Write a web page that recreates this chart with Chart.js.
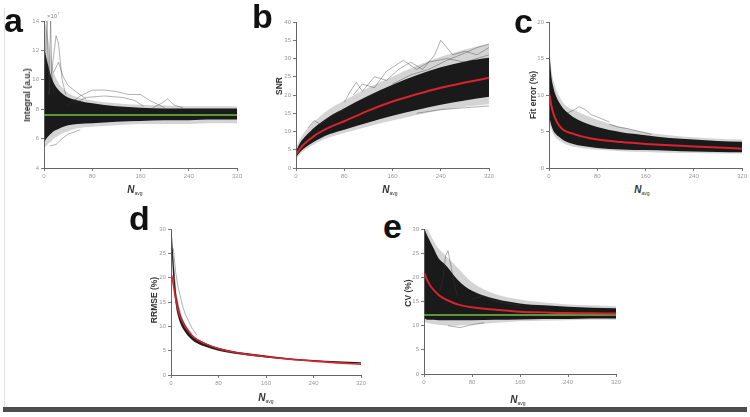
<!DOCTYPE html>
<html>
<head>
<meta charset="utf-8">
<script src="https://cdn.jsdelivr.net/npm/chart.js@4.4.0/dist/chart.umd.min.js"></script>
<style>
  html, body { margin: 0; padding: 0; background: #fff; width: 750px; height: 417px; overflow: hidden; position: relative; font-family: Arial, "Liberation Sans", sans-serif; }
  canvas { position: absolute; }
  .lt { position: absolute; font: bold 34px Arial, "Liberation Sans", sans-serif; color: #111; line-height: 1; }
  .yt { position: absolute; font: bold 8.5px Arial, "Liberation Sans", sans-serif; color: #333; white-space: nowrap; transform: translate(-50%, -50%) rotate(-90deg); }
  .xt { position: absolute; font: bold italic 10px Arial, "Liberation Sans", sans-serif; color: #333; white-space: nowrap; transform: translate(-50%, -50%); }
  .xt sub { font: normal 5px Arial, "Liberation Sans", sans-serif; vertical-align: -2px; }
  .exp { position: absolute; font: 6px Arial, "Liberation Sans", sans-serif; color: #888; }
</style>
</head>
<body>
<div style="position:absolute;left:4px;top:8px;width:1px;height:399px;background:#e2e2e2"></div>
<div style="position:absolute;left:3px;top:407px;width:744px;height:5px;background:#4d4d4d"></div>

<canvas id="chartA"></canvas>
<canvas id="chartB"></canvas>
<canvas id="chartC"></canvas>
<canvas id="chartD"></canvas>
<canvas id="chartE"></canvas>

<div class="lt" style="left:4px;top:3px">a</div>
<div class="lt" style="left:252px;top:-1px">b</div>
<div class="lt" style="left:514px;top:4px">c</div>
<div class="lt" style="left:129px;top:201px">d</div>
<div class="lt" style="left:383px;top:209px">e</div>

<div class="exp" style="left:47px;top:11px">×10<sup style="font-size:4px">7</sup></div>

<div class="yt" style="left:27px;top:95px">Integral (a.u.)</div>
<div class="yt" style="left:279px;top:86px">SNR</div>
<div class="yt" style="left:533px;top:95px">Fit error (%)</div>
<div class="yt" style="left:154px;top:300px">RRMSE (%)</div>
<div class="yt" style="left:408px;top:293px">CV (%)</div>

<div class="xt" style="left:135px;top:190px">N<sub>avg</sub></div>
<div class="xt" style="left:390px;top:190px">N<sub>avg</sub></div>
<div class="xt" style="left:642px;top:190px">N<sub>avg</sub></div>
<div class="xt" style="left:266px;top:398px">N<sub>avg</sub></div>
<div class="xt" style="left:518px;top:400px">N<sub>avg</sub></div>

<script>
// x positions used by the envelopes and mean curves
const xsA = [1, 4, 8, 12, 16, 24, 32, 40, 56, 80, 120, 160, 200, 240, 280, 320];
const xsB = [1, 8, 16, 24, 32, 40, 56, 80, 120, 160, 200, 240, 280, 320];
const xsC = [1, 4, 8, 12, 16, 24, 32, 40, 56, 80, 120, 160, 200, 240, 280, 320];
const xsD = [1, 4, 8, 12, 16, 24, 32, 40, 56, 80, 120, 160, 200, 240, 280, 320];
const xsE = [1, 4, 8, 12, 16, 24, 32, 40, 56, 80, 120, 160, 200, 240, 280, 320];

// a - Integral
const aOuterLo = [5.4, 5.5, 5.7, 5.8, 6.0, 6.2, 6.4, 6.5, 6.7, 6.8, 6.9, 7.0, 7.0, 7.0, 7.05, 7.05];
const aOuterHi = [14, 13.5, 12.5, 11.5, 10.6, 9.8, 9.4, 9.1, 8.8, 8.6, 8.4, 8.3, 8.25, 8.2, 8.2, 8.2];
const aCoreLo = [5.8, 6.0, 6.2, 6.35, 6.5, 6.65, 6.8, 6.9, 7.0, 7.05, 7.15, 7.2, 7.25, 7.25, 7.3, 7.3];
const aCoreHi = [12, 11.5, 10.8, 10.2, 9.8, 9.3, 9.0, 8.8, 8.6, 8.4, 8.2, 8.1, 8.05, 8.05, 8.05, 8.05];
const aTrue = 7.6;
const aOutliers = [
  [[40, 8.3], [60, 8.9], [80, 9.3], [100, 9.3], [120, 9.2], [140, 9.0], [160, 9.0], [175, 8.6], [190, 8.3], [200, 8.1]],
  [[50, 8.4], [70, 8.8], [100, 8.9], [130, 8.8], [150, 8.6], [165, 8.2]],
  [[8, 9], [14, 11], [20, 13], [24, 12.5], [30, 10], [36, 9]],
  [[1, 10], [3, 12], [5, 14], [7, 11], [10, 9]],
  [[8, 9], [11, 14], [13, 10.5], [16, 9]],
  [[10, 5.5], [20, 5.6], [30, 6.0], [40, 6.3], [60, 6.6]],
  [[180, 8.1], [195, 8.4], [205, 8.7], [215, 8.3], [230, 8.1]],
  [[16, 10.5], [24, 11.2], [32, 10.2], [40, 9.6], [56, 9.1], [70, 8.7]]
];

// b - SNR
const bMean = [3.9, 5.6, 6.9, 8.0, 9.0, 9.8, 11.2, 12.8, 15.7, 18.2, 20.2, 22.0, 23.4, 24.7];
const bOuterLo = [2.6, 4.0, 5.0, 5.9, 6.6, 7.3, 8.4, 9.6, 11.4, 13.0, 14.5, 15.8, 16.8, 17.5];
const bOuterHi = [6.0, 8.4, 10.2, 11.8, 13.0, 14.2, 16.2, 18.5, 22.0, 25.0, 28.0, 30.5, 32.5, 34.0];
const bCoreLo = [3.2, 4.6, 5.7, 6.6, 7.4, 8.1, 9.3, 10.5, 12.5, 14.3, 15.9, 17.3, 18.5, 19.5];
const bCoreHi = [5.0, 7.2, 8.8, 10.1, 11.3, 12.3, 14.2, 16.4, 19.8, 22.8, 25.4, 27.6, 29.2, 30.2];
const bOutliers = [
  [[80, 18], [90, 21], [100, 23.5], [110, 21], [130, 25], [150, 24], [170, 27], [190, 29], [210, 27], [230, 31], [240, 35], [250, 33], [260, 31], [280, 32], [300, 31], [320, 33]],
  [[95, 20], [110, 23], [130, 22], [150, 26.5], [178, 29.5], [200, 27], [220, 29], [250, 30], [280, 29], [320, 31]],
  [[20, 11], [30, 13], [40, 12], [60, 14.5], [80, 16]],
  [[200, 15], [240, 16], [280, 16.5], [320, 17]],
  [[160, 23], [190, 25.5], [220, 27], [250, 29.5], [280, 31.5], [300, 33], [320, 34]]
];

// c - Fit error (%)
const cMean = [10.0, 8.5, 7.3, 6.5, 5.9, 5.2, 4.9, 4.7, 4.3, 3.9, 3.55, 3.3, 3.1, 2.95, 2.8, 2.65];
const cOuterLo = [6.0, 5.2, 4.5, 4.1, 3.8, 3.4, 3.1, 2.9, 2.7, 2.5, 2.3, 2.2, 2.1, 2.05, 2.0, 2.0];
const cOuterHi = [16.2, 13.5, 11.8, 10.8, 10.0, 8.9, 8.3, 8.0, 7.4, 6.6, 5.6, 4.9, 4.5, 4.2, 4.0, 3.9];
const cCoreLo = [6.8, 5.8, 5.0, 4.6, 4.3, 3.8, 3.5, 3.3, 3.0, 2.75, 2.55, 2.45, 2.35, 2.25, 2.2, 2.15];
const cCoreHi = [15.5, 12.5, 10.8, 9.8, 9.1, 8.1, 7.5, 7.0, 6.3, 5.6, 4.9, 4.5, 4.1, 3.9, 3.7, 3.6];
const cOutliers = [
  [[30, 7.5], [40, 7.9], [50, 8.4], [60, 8.0], [70, 7.3], [80, 7.0], [100, 6.3]],
  [[100, 6.0], [115, 5.6], [130, 5.4], [150, 5.0], [170, 4.6]]
];

// d - RRMSE (%)
const dMean = [20.5, 18.5, 15.5, 13.3, 11.8, 9.9, 8.6, 7.6, 6.5, 5.4, 4.4, 3.75, 3.25, 2.85, 2.5, 2.2];
const dCoreLo = [26, 19.5, 14.5, 12.0, 10.5, 8.8, 7.6, 6.8, 5.9, 5.0, 4.15, 3.6, 3.15, 2.8, 2.55, 2.35];
const dCoreHi = [30, 24, 17.5, 14.5, 12.5, 10.3, 8.8, 7.8, 6.7, 5.6, 4.6, 4.0, 3.45, 3.1, 2.8, 2.6];
const dOutliers = [
  [[4, 26], [8, 21], [12, 18], [16, 16], [20, 14], [24, 12.5], [30, 11], [36, 9.5], [44, 8.2]],
  [[2, 25], [5, 22], [8, 17], [12, 14.5], [18, 11.8], [25, 10], [35, 8.5]]
];

// e - CV (%)
const eMean = [20.8, 19.8, 18.8, 18.0, 17.4, 16.4, 15.7, 15.2, 14.4, 13.8, 13.3, 12.9, 12.75, 12.6, 12.55, 12.5];
const eTrue = 12.2;
const eOuterLo = [10.8, 10.6, 10.5, 10.4, 10.3, 10.2, 10.1, 10.0, 10.0, 10.2, 10.6, 10.9, 11.0, 11.1, 11.2, 11.2];
const eOuterHi = [30, 30, 29.5, 28.5, 27.5, 26, 25, 24, 22, 19, 16.5, 15.4, 14.8, 14.4, 14.2, 14.0];
const eCoreLo = [11.5, 11.3, 11.2, 11.2, 11.2, 11.1, 11.1, 11.1, 11.1, 11.1, 11.2, 11.3, 11.4, 11.4, 11.5, 11.5];
const eCoreHi = [30, 29, 28, 27, 26, 24, 23, 22, 19.5, 17.2, 15.5, 14.6, 14.2, 13.9, 13.7, 13.6];
const eOutliers = [
  [[26, 17], [32, 20], [36, 24.5], [40, 25.5], [44, 23], [50, 19], [56, 16]],
  [[80, 15.5], [100, 16.2], [120, 15], [140, 14.6], [160, 14.2]],
  [[40, 10], [50, 9.8], [60, 9.6], [70, 9.9], [80, 10.2], [100, 10.6]]
];

const xTicks = [0, 80, 160, 240, 320];

const RED = '#d9232e';
const GREEN = '#74c044';
const CORE = 'rgba(12,12,12,0.93)';
const HALO = 'rgba(0,0,0,0.17)';

const pts = (xs, ys) => xs.map((x, i) => ({ x, y: ys[i] }));
const pairs = list => list.map(([x, y]) => ({ x, y }));

function band(xs, lo, hi, color, order) {
  return [
    { data: pts(xs, lo), borderColor: 'rgba(0,0,0,0)', borderWidth: 0, fill: false, order: order },
    { data: pts(xs, hi), borderColor: 'rgba(0,0,0,0)', borderWidth: 0, backgroundColor: color, fill: '-1', order: order - 1 }
  ];
}
function traces(list) {
  return list.map(t => ({ data: pairs(t), borderColor: 'rgba(60,60,60,0.5)', borderWidth: 0.8, fill: false, tension: 0, cubicInterpolationMode: 'default', order: 5 }));
}
function curve(xs, ys, color, width, order) {
  return { data: pts(xs, ys), borderColor: color, borderWidth: width, fill: false, order: order };
}
function flat(y, color) {
  return { data: [{ x: 0, y: y }, { x: 320, y: y }], borderColor: color, borderWidth: 1.5, fill: false, order: 2 };
}

function makePanel(id, box, yMin, yMax, yStep, sets) {
  const padL = 22, padT = 8, padR = 10, padB = 14;
  const cv = document.getElementById(id);
  cv.width = box.r - box.l + padL + padR;
  cv.height = box.b - box.t + padT + padB;
  cv.style.left = (box.l - padL) + 'px';
  cv.style.top = (box.t - padT) + 'px';
  const tickFont = { size: 6, family: 'Arial' };
  const grid = { drawOnChartArea: false, drawTicks: true, tickLength: 3, color: '#777' };
  const border = { color: '#666', width: 1 };
  return new Chart(cv, {
    type: 'line',
    data: { datasets: sets },
    options: {
      responsive: false,
      animation: false,
      layout: { padding: { top: padT, right: padR, left: 0, bottom: 0 } },
      plugins: { legend: { display: false }, tooltip: { enabled: false } },
      elements: { point: { radius: 0 }, line: { cubicInterpolationMode: 'monotone' } },
      scales: {
        x: {
          type: 'linear', min: 0, max: 320,
          afterBuildTicks: s => { s.ticks = xTicks.map(v => ({ value: v })); },
          ticks: { font: tickFont, color: '#999', padding: 2, maxRotation: 0 },
          grid: grid, border: border,
          afterFit: s => { s.height = padB; }
        },
        y: {
          min: yMin, max: yMax,
          ticks: { stepSize: yStep, font: tickFont, color: '#999', padding: 2 },
          grid: grid, border: border,
          afterFit: s => { s.width = padL; }
        }
      }
    }
  });
}

makePanel('chartA', { l: 44, r: 237, t: 21, b: 168 }, 4, 14, 2, [
  ...band(xsA, aOuterLo, aOuterHi, HALO, 10),
  ...band(xsA, aCoreLo, aCoreHi, CORE, 8),
  ...traces(aOutliers),
  flat(aTrue, GREEN)
]);

makePanel('chartB', { l: 296, r: 489, t: 22, b: 168 }, 0, 40, 5, [
  ...band(xsB, bOuterLo, bOuterHi, HALO, 10),
  ...band(xsB, bCoreLo, bCoreHi, CORE, 8),
  ...traces(bOutliers),
  curve(xsB, bMean, RED, 2, 1)
]);

makePanel('chartC', { l: 549, r: 742, t: 22, b: 168 }, 0, 20, 5, [
  ...band(xsC, cOuterLo, cOuterHi, HALO, 10),
  ...band(xsC, cCoreLo, cCoreHi, CORE, 8),
  ...traces(cOutliers),
  curve(xsC, cMean, RED, 2, 1)
]);

makePanel('chartD', { l: 171, r: 361, t: 229, b: 375 }, 0, 30, 5, [
  ...band(xsD, dCoreLo, dCoreHi, CORE, 8),
  ...traces(dOutliers),
  curve(xsD, dMean, RED, 1.6, 1)
]);

makePanel('chartE', { l: 424, r: 616, t: 229, b: 374 }, 0, 30, 5, [
  ...band(xsE, eOuterLo, eOuterHi, HALO, 10),
  ...band(xsE, eCoreLo, eCoreHi, CORE, 8),
  ...traces(eOutliers),
  flat(eTrue, GREEN),
  curve(xsE, eMean, RED, 2, 1)
]);
</script>
</body>
</html>
